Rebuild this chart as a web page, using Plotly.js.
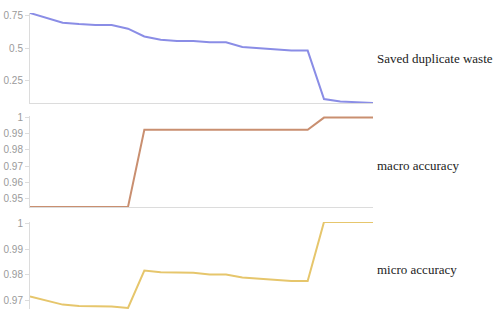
<!DOCTYPE html>
<html>
<head>
<meta charset="utf-8">
<script src="https://cdn.plot.ly/plotly-3.0.1.min.js"></script>
<style>
  html, body { margin: 0; padding: 0; background: #fff; }
  #chart { width: 499px; height: 309px; }
</style>
</head>
<body>
<div id="chart"></div>
<script>
// Step index (x positions)
const steps = [0,1,2,3,4,5,6,7,8,9,10,11,12,13,14,15,16,17,18,19,20,21];

// Series values
const savedWaste = [0.77,0.73,0.695,0.685,0.678,0.678,0.65,0.59,0.565,0.556,0.556,0.545,0.545,0.51,0.50,0.49,0.482,0.482,0.11,0.092,0.088,0.08];
const macroAccuracy = [0.9447,0.9447,0.9447,0.9447,0.9447,0.9447,0.9447,0.9925,0.9925,0.9925,0.9925,0.9925,0.9925,0.9925,0.9925,0.9925,0.9925,0.9925,1.0,1.0,1.0,1.0];
const microAccuracy = [0.9717,0.970,0.9685,0.968,0.9678,0.9678,0.9672,0.9817,0.981,0.9808,0.9808,0.9802,0.9802,0.979,0.9785,0.978,0.9776,0.9776,1.0005,1.0005,1.0005,1.0005];

// Labels
const seriesNames = ["Saved duplicate waste", "macro accuracy", "micro accuracy"];
const ticks1 = [0.25, 0.5, 0.75];
const ticks2 = [0.95, 0.96, 0.97, 0.98, 0.99, 1];
const ticks3 = [0.97, 0.98, 0.99, 1];

const colors = ["#8a8de6", "#c98f70", "#e6c66c"];

const traces = [
  {x: steps, y: savedWaste, xaxis: 'x', yaxis: 'y', mode: 'lines', line: {color: colors[0], width: 2}, name: seriesNames[0]},
  {x: steps, y: macroAccuracy, xaxis: 'x2', yaxis: 'y2', mode: 'lines', line: {color: colors[1], width: 2}, name: seriesNames[1]},
  {x: steps, y: microAccuracy, xaxis: 'x3', yaxis: 'y3', mode: 'lines', line: {color: colors[2], width: 2}, name: seriesNames[2]}
];

const axisColor = "#dcdcdc";
function xax(anchor) {
  return {domain: [0, 1], anchor: anchor, range: [0, 21], showgrid: false, zeroline: false,
          showticklabels: false, ticks: '', showline: true, linecolor: axisColor, linewidth: 1.5, fixedrange: true};
}
function yax(anchor, domain, range, tickvals) {
  return {domain: domain, anchor: anchor, range: range, tickvals: tickvals, showgrid: false, zeroline: false,
          showline: true, linecolor: axisColor, linewidth: 1, ticks: 'outside', ticklen: 4, tickwidth: 1,
          tickcolor: axisColor, tickfont: {family: 'Liberation Sans, Arial, sans-serif', size: 10, color: '#9a9a9a'},
          fixedrange: true};
}

const labelFont = {family: 'Liberation Serif, Times New Roman, serif', size: 13, color: '#222'};
const layout = {
  width: 499, height: 309,
  margin: {l: 30, r: 126, t: 13, b: 0, pad: 0},
  paper_bgcolor: '#fff', plot_bgcolor: '#fff',
  showlegend: false,
  xaxis: xax('y'),
  xaxis2: xax('y2'),
  xaxis3: xax('y3'),
  yaxis: yax('x', [0.696, 1.0], [0.08, 0.77], ticks1),
  yaxis2: yax('x2', [0.345, 0.652], [0.9447, 1.001], ticks2),
  yaxis3: yax('x3', [0, 0.294], [0.9668, 1.0005], ticks3),
  annotations: [
    {text: seriesNames[0], xref: 'paper', yref: 'paper', x: 1.006, y: 0.845, xanchor: 'left', yanchor: 'middle', showarrow: false, font: labelFont},
    {text: seriesNames[1], xref: 'paper', yref: 'paper', x: 1.006, y: 0.485, xanchor: 'left', yanchor: 'middle', showarrow: false, font: labelFont},
    {text: seriesNames[2], xref: 'paper', yref: 'paper', x: 1.006, y: 0.132, xanchor: 'left', yanchor: 'middle', showarrow: false, font: labelFont}
  ]
};

Plotly.newPlot('chart', traces, layout, {displayModeBar: false, staticPlot: true});
</script>
</body>
</html>
